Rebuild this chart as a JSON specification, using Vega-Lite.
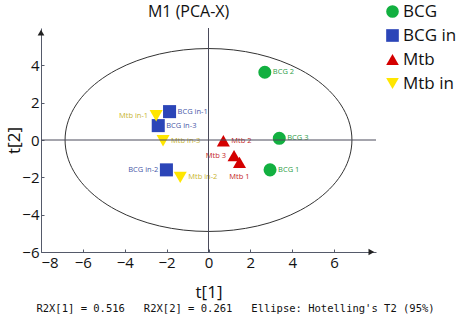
{
  "$schema": "https://vega.github.io/schema/vega-lite/v6.json",
  "width": 335,
  "height": 224,
  "autosize": {"type": "none"},
  "padding": {"left": 41, "top": 28, "right": 81, "bottom": 64},
  "title": {"text": "R2X[1] = 0.516 \u00a0 R2X[2] = 0.261 \u00a0 Ellipse: Hotelling's T2 (95%)", "orient": "bottom", "anchor": "middle", "dx": 27, "offset": 4, "font": "DejaVu Sans Mono", "fontSize": 10.5, "fontWeight": "normal", "color": "#111"},
  "datasets": {
    "pts": [
      {"name": "BCG 1", "group": "BCG", "x": 2.94, "y": -1.6},
      {"name": "BCG 2", "group": "BCG", "x": 2.69, "y": 3.63},
      {"name": "BCG 3", "group": "BCG", "x": 3.38, "y": 0.09},
      {"name": "BCG in-1", "group": "BCG in", "x": -1.86, "y": 1.52},
      {"name": "BCG in-2", "group": "BCG in", "x": -2.01, "y": -1.6},
      {"name": "BCG in-3", "group": "BCG in", "x": -2.4, "y": 0.77},
      {"name": "Mtb 1", "group": "Mtb", "x": 1.48, "y": -1.2},
      {"name": "Mtb 2", "group": "Mtb", "x": 0.71, "y": -0.04},
      {"name": "Mtb 3", "group": "Mtb", "x": 1.22, "y": -0.84},
      {"name": "Mtb in-1", "group": "Mtb in", "x": -2.5, "y": 1.3},
      {"name": "Mtb in-2", "group": "Mtb in", "x": -1.35, "y": -2.0},
      {"name": "Mtb in-3", "group": "Mtb in", "x": -2.17, "y": -0.04}
    ],
    "ellipse": [
      {"i": 0, "ex": 6.85, "ey": 0},
      {"i": 1, "ex": 6.746, "ey": 0.851},
      {"i": 2, "ex": 6.437, "ey": 1.676},
      {"i": 3, "ex": 5.932, "ey": 2.45},
      {"i": 4, "ex": 5.247, "ey": 3.15},
      {"i": 5, "ex": 4.403, "ey": 3.753},
      {"i": 6, "ex": 3.425, "ey": 4.243},
      {"i": 7, "ex": 2.343, "ey": 4.605},
      {"i": 8, "ex": 1.189, "ey": 4.826},
      {"i": 9, "ex": 0, "ey": 4.9},
      {"i": 10, "ex": -1.189, "ey": 4.826},
      {"i": 11, "ex": -2.343, "ey": 4.605},
      {"i": 12, "ex": -3.425, "ey": 4.243},
      {"i": 13, "ex": -4.403, "ey": 3.753},
      {"i": 14, "ex": -5.247, "ey": 3.15},
      {"i": 15, "ex": -5.932, "ey": 2.45},
      {"i": 16, "ex": -6.437, "ey": 1.676},
      {"i": 17, "ex": -6.746, "ey": 0.851},
      {"i": 18, "ex": -6.85, "ey": 0},
      {"i": 19, "ex": -6.746, "ey": -0.851},
      {"i": 20, "ex": -6.437, "ey": -1.676},
      {"i": 21, "ex": -5.932, "ey": -2.45},
      {"i": 22, "ex": -5.247, "ey": -3.15},
      {"i": 23, "ex": -4.403, "ey": -3.753},
      {"i": 24, "ex": -3.425, "ey": -4.243},
      {"i": 25, "ex": -2.343, "ey": -4.605},
      {"i": 26, "ex": -1.189, "ey": -4.826},
      {"i": 27, "ex": 0, "ey": -4.9},
      {"i": 28, "ex": 1.189, "ey": -4.826},
      {"i": 29, "ex": 2.343, "ey": -4.605},
      {"i": 30, "ex": 3.425, "ey": -4.243},
      {"i": 31, "ex": 4.403, "ey": -3.753},
      {"i": 32, "ex": 5.247, "ey": -3.15},
      {"i": 33, "ex": 5.932, "ey": -2.45},
      {"i": 34, "ex": 6.437, "ey": -1.676},
      {"i": 35, "ex": 6.746, "ey": -0.851}
    ]
  },
  "layer": [
    {
      "data": {"name": "pts"},
      "mark": {"type": "point", "filled": true, "opacity": 1, "size": 170},
      "encoding": {
        "x": {"field": "x", "type": "quantitative", "title": "t[1]",
              "scale": {"domain": [-8, 8], "nice": false, "zero": false},
              "axis": {"orient": "bottom", "values": [-8, -7, -6, -5, -4, -3, -2, -1, 0, 1, 2, 3, 4, 5, 6, 7],
                       "labelExpr": "datum.value % 2 === 0 ? datum.label : ''"}},
        "y": {"field": "y", "type": "quantitative", "title": "t[2]",
              "scale": {"domain": [-6, 6], "nice": false, "zero": false},
              "axis": {"orient": "left", "values": [-6, -5, -4, -3, -2, -1, 0, 1, 2, 3, 4, 5],
                       "labelExpr": "datum.value % 2 === 0 ? datum.label : ''"}},
        "color": {"field": "group", "type": "nominal",
                  "scale": {"domain": ["BCG", "BCG in", "Mtb", "Mtb in"], "range": ["#12B040", "#2B45B8", "#D40000", "#FFE600"]},
                  "legend": {"title": null, "orient": "none", "legendX": 343, "legendY": -25, "labelFontSize": 17, "labelFont": "Open Sans", "labelColor": "#111", "symbolSize": 160, "rowPadding": 6, "labelOffset": 2, "symbolStrokeWidth": 0}},
        "shape": {"field": "group", "type": "nominal",
                  "scale": {"domain": ["BCG", "BCG in", "Mtb", "Mtb in"], "range": ["circle", "square", "triangle-up", "triangle-down"]},
                  "legend": {"title": null, "orient": "none", "legendX": 343, "legendY": -25, "labelFontSize": 17, "labelFont": "Open Sans", "labelColor": "#111", "symbolSize": 160, "rowPadding": 6, "labelOffset": 2, "symbolStrokeWidth": 0}}
      }
    },
    {
      "data": {"name": "ellipse"},
      "mark": {"type": "line", "interpolate": "cardinal-closed", "stroke": "#333", "strokeWidth": 1},
      "encoding": {
        "x": {"field": "ex", "type": "quantitative"},
        "y": {"field": "ey", "type": "quantitative"},
        "order": {"field": "i", "type": "quantitative"}
      }
    },
    {
      "data": {"name": "pts"},
      "transform": [{"filter": {"field": "name", "oneOf": ["BCG 1", "BCG 2", "BCG 3", "BCG in-1", "BCG in-3", "Mtb 2", "Mtb in-2", "Mtb in-3"]}}],
      "mark": {"type": "text", "align": "left", "baseline": "middle", "dx": 8, "fontSize": 7.5, "font": "Open Sans"},
      "encoding": {
        "x": {"field": "x", "type": "quantitative"},
        "y": {"field": "y", "type": "quantitative"},
        "text": {"field": "name"},
        "fill": {"field": "group", "type": "nominal", "legend": null,
                 "scale": {"domain": ["BCG", "BCG in", "Mtb", "Mtb in"], "range": ["#2E9E48", "#4858A8", "#C41E1E", "#C8B430"]}}
      }
    },
    {
      "data": {"name": "pts"},
      "transform": [{"filter": {"field": "name", "oneOf": ["BCG in-2", "Mtb in-1", "Mtb 3"]}}],
      "mark": {"type": "text", "align": "right", "baseline": "middle", "dx": -8, "fontSize": 7.5, "font": "Open Sans"},
      "encoding": {
        "x": {"field": "x", "type": "quantitative"},
        "y": {"field": "y", "type": "quantitative"},
        "text": {"field": "name"},
        "fill": {"field": "group", "type": "nominal", "legend": null}
      }
    },
    {
      "data": {"name": "pts"},
      "transform": [{"filter": {"field": "name", "oneOf": ["Mtb 1"]}}],
      "mark": {"type": "text", "align": "center", "baseline": "middle", "dy": 15, "fontSize": 7.5, "font": "Open Sans"},
      "encoding": {
        "x": {"field": "x", "type": "quantitative"},
        "y": {"field": "y", "type": "quantitative"},
        "text": {"field": "name"},
        "fill": {"field": "group", "type": "nominal", "legend": null}
      }
    },
    {
      "data": {"values": [{}]},
      "mark": {"type": "rule", "color": "#4a4a5a", "strokeWidth": 1},
      "encoding": {
        "x": {"datum": 0, "type": "quantitative"},
        "y": {"datum": -6, "type": "quantitative"},
        "y2": {"datum": 6}
      }
    },
    {
      "data": {"values": [{}]},
      "mark": {"type": "rule", "color": "#4a4a5a", "strokeWidth": 1},
      "encoding": {
        "y": {"datum": 0, "type": "quantitative"},
        "x": {"datum": -8, "type": "quantitative"},
        "x2": {"datum": 8}
      }
    },
    {
      "data": {"values": [{}]},
      "mark": {"type": "point", "shape": "triangle-up", "filled": true, "color": "#222", "opacity": 1, "size": 45},
      "encoding": {
        "x": {"datum": -8, "type": "quantitative"},
        "y": {"datum": 5.75, "type": "quantitative"}
      }
    },
    {
      "data": {"values": [{}]},
      "mark": {"type": "point", "shape": "triangle-right", "filled": true, "color": "#222", "opacity": 1, "size": 45},
      "encoding": {
        "x": {"datum": 7.78, "type": "quantitative"},
        "y": {"datum": -6, "type": "quantitative"}
      }
    },
    {
      "data": {"values": [{}]},
      "mark": {"type": "text", "text": "M1 (PCA-X)", "fontSize": 16, "font": "Open Sans", "color": "#111", "align": "center", "baseline": "middle", "dy": -16, "clip": false},
      "encoding": {
        "x": {"datum": -0.95, "type": "quantitative"},
        "y": {"datum": 6, "type": "quantitative"}
      }
    }
  ],
  "config": {
    "font": "Open Sans",
    "view": {"stroke": null},
    "axis": {
      "grid": false,
      "domainColor": "#555a6a",
      "domainWidth": 1,
      "tickColor": "#555a6a",
      "tickSize": -3,
      "labelFontSize": 15,
      "labelFont": "Open Sans",
      "labelColor": "#111",
      "titleFontSize": 17,
      "titleFont": "Open Sans",
      "titleFontWeight": "normal",
      "titleColor": "#111"
    },
    "axisX": {"labelPadding": 6, "titlePadding": 14},
    "axisY": {"labelPadding": 5, "titlePadding": -2}
  }
}
